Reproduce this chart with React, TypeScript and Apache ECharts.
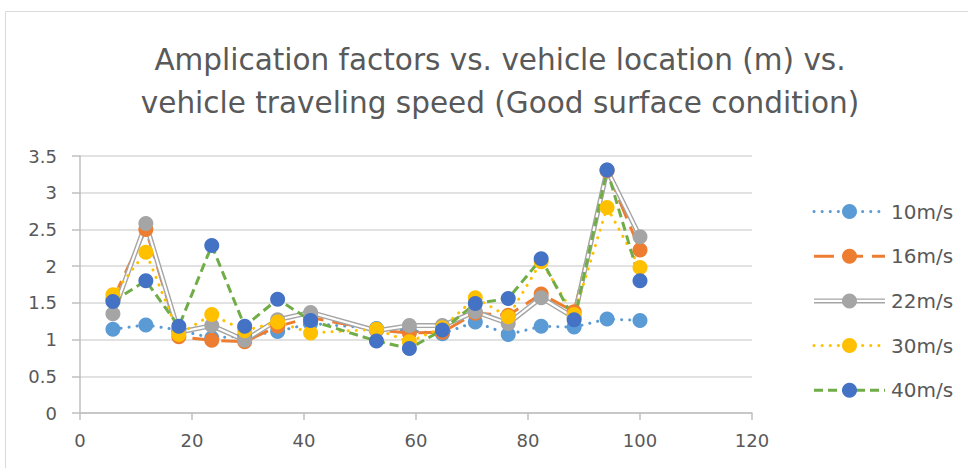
import React, { useEffect, useRef } from "react";
import * as echarts from "echarts";

// Vehicle location along the bridge (m)
const locations = [
  5.88, 11.76, 17.65, 23.53, 29.41, 35.29, 41.18, 52.94,
  58.82, 64.71, 70.59, 76.47, 82.35, 88.24, 94.12, 100,
];

// Amplification factor per travelling speed
const speed10 = [1.14, 1.2, 1.13, 1.02, 1.05, 1.11, 1.22, 1.15, 1.12, 1.08, 1.24, 1.07, 1.18, 1.17, 1.28, 1.26];
const speed16 = [1.55, 2.5, 1.04, 0.99, 0.97, 1.18, 1.3, 1.13, 1.09, 1.1, 1.36, 1.33, 1.62, 1.38, 3.3, 2.22];
const speed22 = [1.35, 2.58, 1.1, 1.19, 0.99, 1.27, 1.37, 1.12, 1.19, 1.19, 1.38, 1.22, 1.57, 1.3, 3.31, 2.4];
const speed30 = [1.61, 2.19, 1.07, 1.34, 1.12, 1.24, 1.09, 1.14, 0.97, 1.16, 1.57, 1.31, 2.06, 1.34, 2.8, 1.98];
const speed40 = [1.52, 1.8, 1.18, 2.28, 1.18, 1.55, 1.26, 0.98, 0.88, 1.13, 1.49, 1.56, 2.1, 1.27, 3.31, 1.8];

const seriesNames = ["10m/s", "16m/s", "22m/s", "30m/s", "40m/s"];

const TEXT = "#595959";
const FONT = "DejaVu Sans";

type Style = {
  line: string;
  marker: string;
  dash: number[] | "solid";
  cap: "round" | "butt";
  compound?: boolean;
};

const styles: Style[] = [
  { line: "#5B9BD5", marker: "#5B9BD5", dash: [0.1, 8], cap: "round" },
  { line: "#ED7D31", marker: "#ED7D31", dash: [20, 9], cap: "butt" },
  { line: "#A5A5A5", marker: "#A5A5A5", dash: "solid", cap: "butt", compound: true },
  { line: "#FFC000", marker: "#FFC000", dash: [0.1, 8], cap: "round" },
  { line: "#70AD47", marker: "#4472C4", dash: [9, 5], cap: "butt" },
];

const values = [speed10, speed16, speed22, speed30, speed40];

function pairs(ys: number[]) {
  return locations.map((x, i) => [x, ys[i]]);
}

export default function App() {
  const ref = useRef<HTMLDivElement>(null);

  useEffect(() => {
    if (!ref.current) return;
    const chart = echarts.init(ref.current, undefined, { renderer: "svg" });

    const series: any[] = [];
    values.forEach((ys, i) => {
      const st = styles[i];
      if (st.compound) {
        // outer band of the double line
        series.push({
          type: "line",
          name: seriesNames[i] + " outline",
          data: pairs(ys),
          showSymbol: false,
          silent: true,
          lineStyle: { color: st.line, width: 5 },
        });
        series.push({
          type: "line",
          name: seriesNames[i],
          data: pairs(ys),
          symbol: "circle",
          symbolSize: 15,
          itemStyle: { color: st.marker },
          lineStyle: { color: "#ffffff", width: 2.2 },
        });
      } else {
        series.push({
          type: "line",
          name: seriesNames[i],
          data: pairs(ys),
          symbol: "circle",
          symbolSize: 15,
          itemStyle: { color: st.marker },
          lineStyle: { color: st.line, width: 3, type: st.dash, cap: st.cap },
        });
      }
    });

    // legend drawn as graphic rows on the right
    const legendItems: any[] = [];
    seriesNames.forEach((name, i) => {
      const st = styles[i];
      const cy = 211.5 + i * 44.7;
      const x1 = 814;
      const x2 = 885;
      const cx = (x1 + x2) / 2;
      if (st.compound) {
        legendItems.push({
          type: "line",
          shape: { x1, y1: cy, x2, y2: cy },
          style: { stroke: st.line, lineWidth: 5 },
        });
        legendItems.push({
          type: "line",
          shape: { x1, y1: cy, x2, y2: cy },
          style: { stroke: "#ffffff", lineWidth: 2.2 },
        });
      } else {
        legendItems.push({
          type: "line",
          shape: { x1, y1: cy, x2, y2: cy },
          style: {
            stroke: st.line,
            lineWidth: 3,
            lineDash: st.dash === "solid" ? null : st.dash,
            lineCap: st.cap,
          },
        });
      }
      legendItems.push({
        type: "circle",
        shape: { cx, cy, r: 7.5 },
        style: { fill: st.marker },
      });
      legendItems.push({
        type: "text",
        x: 891,
        y: cy,
        style: {
          text: name,
          fill: TEXT,
          font: `20px "${FONT}"`,
          textVerticalAlign: "middle",
          textAlign: "left",
        },
      });
    });

    chart.setOption({
      animation: false,
      backgroundColor: "#ffffff",
      title: {
        text:
          "Amplication factors vs. vehicle location (m) vs.\nvehicle traveling speed (Good surface condition)",
        left: 495,
        top: 33,
        textAlign: "center",
        textStyle: {
          fontFamily: FONT,
          fontSize: 29.5,
          fontWeight: "normal",
          color: TEXT,
          lineHeight: 43,
        },
      },
      grid: { left: 80, right: 216, top: 156, bottom: 55, containLabel: false },
      xAxis: {
        type: "value",
        min: 0,
        max: 120,
        interval: 20,
        axisLine: { show: true, lineStyle: { color: "#bfbfbf", width: 1.5 } },
        axisTick: { show: true, length: 7, lineStyle: { color: "#bfbfbf", width: 1.5 } },
        splitLine: { show: false },
        axisLabel: { color: TEXT, fontFamily: FONT, fontSize: 18, margin: 18 },
      },
      yAxis: {
        type: "value",
        min: 0,
        max: 3.5,
        interval: 0.5,
        axisLine: { show: true, lineStyle: { color: "#bfbfbf", width: 1.5 } },
        axisTick: { show: true, length: 8, lineStyle: { color: "#bfbfbf", width: 1.5 } },
        splitLine: { show: true, lineStyle: { color: "#d9d9d9", width: 1.5 } },
        axisLabel: { color: TEXT, fontFamily: FONT, fontSize: 18, margin: 23 },
      },
      series,
      graphic: [
        {
          type: "rect",
          shape: { x: 5.5, y: 11.5, width: 1000, height: 1000 },
          style: { fill: "none", stroke: "#d9d9d9", lineWidth: 1 },
          silent: true,
          z: 0,
        },
        ...legendItems,
      ],
    });

    return () => chart.dispose();
  }, []);

  return (
    <div
      ref={ref}
      style={{ position: "fixed", left: 0, top: 0, width: 968, height: 468 }}
    />
  );
}
